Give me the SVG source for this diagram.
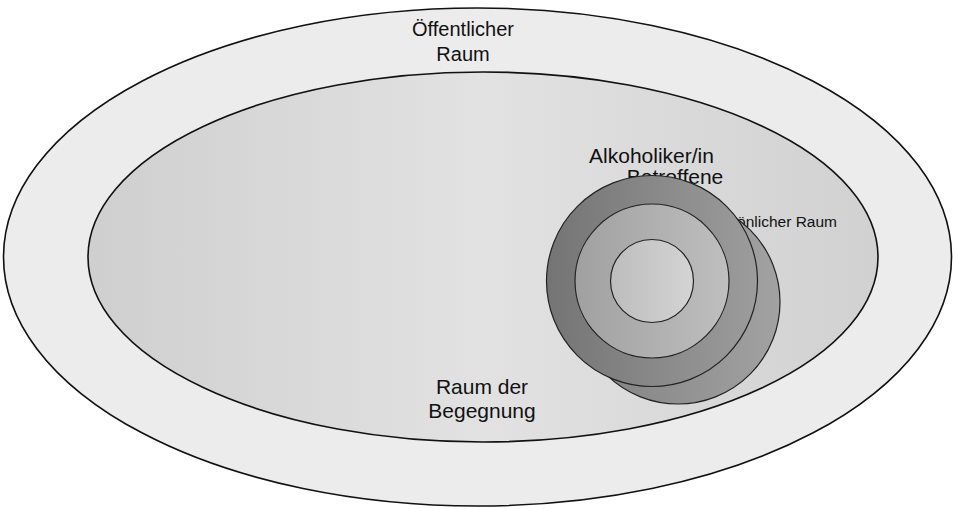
<svg xmlns="http://www.w3.org/2000/svg" width="955" height="509" viewBox="0 0 955 509">
<defs>
<linearGradient id="gInner" x1="0" y1="0" x2="1" y2="0">
<stop offset="0" stop-color="#cfcfcf"/>
<stop offset="0.5" stop-color="#e2e2e2"/>
<stop offset="1" stop-color="#d1d1d1"/>
</linearGradient>
<linearGradient id="gBack" x1="0" y1="0" x2="1" y2="0">
<stop offset="0" stop-color="#808080"/>
<stop offset="1" stop-color="#a2a2a2"/>
</linearGradient>
<linearGradient id="gRing1" x1="0" y1="0" x2="1" y2="0">
<stop offset="0" stop-color="#747474"/>
<stop offset="1" stop-color="#9c9c9c"/>
</linearGradient>
<linearGradient id="gRing2" x1="0" y1="0" x2="1" y2="0">
<stop offset="0" stop-color="#a0a0a0"/>
<stop offset="1" stop-color="#bfbfbf"/>
</linearGradient>
<linearGradient id="gRing3" x1="0" y1="0" x2="1" y2="0">
<stop offset="0" stop-color="#bdbdbd"/>
<stop offset="1" stop-color="#d4d4d4"/>
</linearGradient>
</defs>
<style>
.big{stroke:#111;stroke-width:1.6}
.c{stroke:#222;stroke-width:1.2}
text{font-family:"Liberation Sans",Arial,sans-serif;fill:#111}
.t20{font-size:20px}
.t21{font-size:21px}
.t15{font-size:15.5px}
</style>
<rect width="955" height="509" fill="#ffffff"/>
<g id="oeffentlicher-raum">
<ellipse class="big" cx="477.5" cy="257" rx="474" ry="249" fill="#ececec"/>
<text class="t20" x="463" y="36" text-anchor="middle">Öffentlicher</text>
<text class="t20" x="463" y="61" text-anchor="middle">Raum</text>
</g>
<g id="raum-der-begegnung">
<ellipse class="big" cx="483" cy="257" rx="395" ry="185" fill="url(#gInner)"/>
<text class="t21" x="482" y="394" text-anchor="middle">Raum der</text>
<text class="t21" x="482" y="418" text-anchor="middle">Begegnung</text>
</g>
<g id="betroffene">
<text class="t15" x="837" y="226.5" text-anchor="end">persönlicher Raum</text>
<text class="t21" x="675" y="184" text-anchor="middle">Betroffene</text>
<circle class="c" cx="678" cy="302" r="102" fill="url(#gBack)"/>
</g>
<g id="alkoholiker">
<text class="t21" x="651.5" y="163" text-anchor="middle">Alkoholiker/in</text>
<circle class="c" cx="652" cy="281" r="105.5" fill="url(#gRing1)"/>
<circle class="c" cx="652" cy="281" r="77" fill="url(#gRing2)"/>
<circle class="c" cx="652" cy="281" r="41.5" fill="url(#gRing3)"/>
</g>
<g id="connectors"/>
</svg>
